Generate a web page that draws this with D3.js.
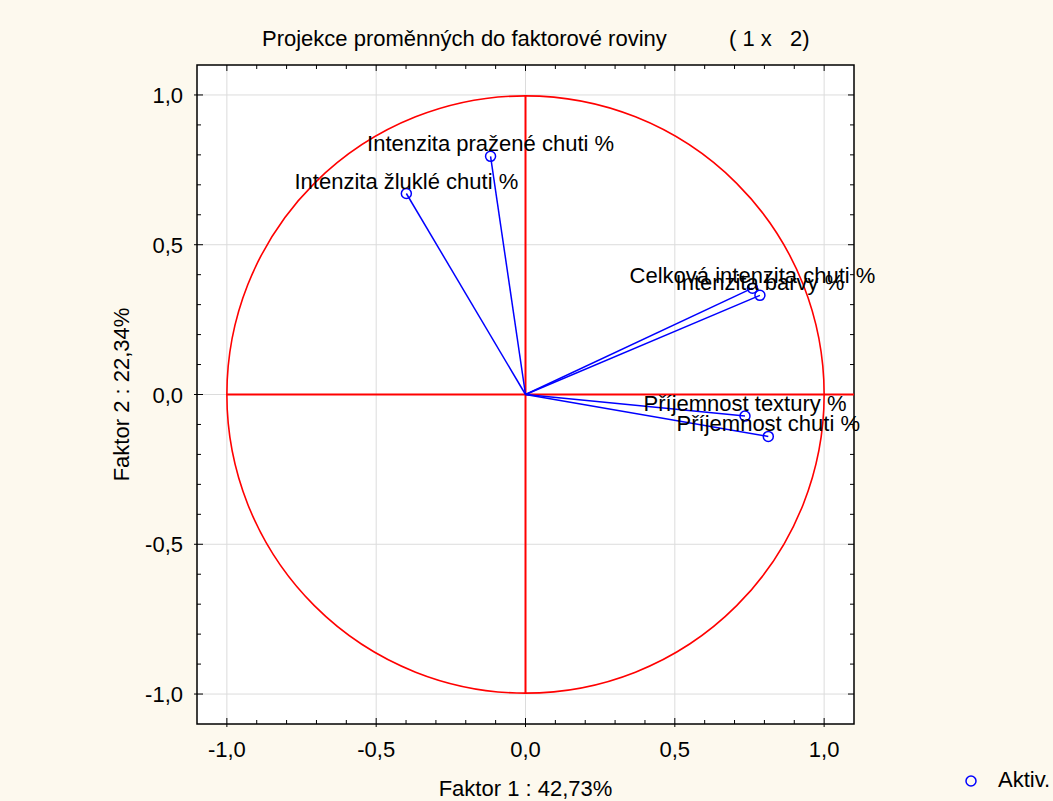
<!DOCTYPE html>
<html><head><meta charset="utf-8">
<script src="https://cdn.jsdelivr.net/npm/d3@7"></script>
<style>html,body{margin:0;padding:0;background:#fdf9ee;}svg{display:block;}</style>
</head><body>
<script>
const variables = ["Intenzita pražené chuti %","Intenzita žluklé chuti %","Celková intenzita chuti %","Intenzita barvy %","Příjemnost textury %","Příjemnost chuti %"];
const factor1 = [-0.117,-0.399,0.760,0.785,0.735,0.813];
const factor2 = [0.795,0.671,0.355,0.331,-0.072,-0.140];
const tickValues = [-1.0,-0.5,0.0,0.5,1.0];
const tickLabels = ["-1,0","-0,5","0,0","0,5","1,0"];
const titleText = "Projekce proměnných do faktorové roviny";
const titleSuffix = "( 1 x   2)";
const xLabel = "Faktor 1 : 42,73%";
const yLabel = "Faktor 2 : 22,34%";
const legendLabel = "Aktiv.";

const W=1053,H=801;
const L=197,R=854,T=65,B=724;
const font="'Liberation Sans', Arial, sans-serif";
const FS=22;
const svg=d3.select("body").append("svg").attr("width",W).attr("height",H);
svg.append("rect").attr("width",W).attr("height",H).attr("fill","#fdf9ee");
const x=d3.scaleLinear().domain([-1.1,1.1]).range([L,R]);
const y=d3.scaleLinear().domain([-1.1,1.1]).range([B,T]);
svg.append("rect").attr("x",L).attr("y",T).attr("width",R-L).attr("height",B-T).attr("fill","#fff");
// grid
const g=svg.append("g");
tickValues.forEach(v=>{
  g.append("line").attr("x1",x(v)).attr("x2",x(v)).attr("y1",T).attr("y2",B).attr("stroke","#dcdcdc").attr("stroke-width",1);
  g.append("line").attr("y1",y(v)).attr("y2",y(v)).attr("x1",L).attr("x2",R).attr("stroke","#dcdcdc").attr("stroke-width",1);
});
// minor and major ticks
const minor=d3.range(-11,12).map(i=>i/10).filter(v=>Math.abs(v)<=1.05);
minor.forEach(v=>{
  const major=Math.abs(Math.round(v*10)%5)===0;
  const li=major?6:4;
  const lo=major?3:0;
  g.append("line").attr("x1",x(v)).attr("x2",x(v)).attr("y1",B+lo).attr("y2",B-li).attr("stroke","#000");
  g.append("line").attr("x1",x(v)).attr("x2",x(v)).attr("y1",T).attr("y2",T+li).attr("stroke","#000");
  g.append("line").attr("y1",y(v)).attr("y2",y(v)).attr("x1",L-lo).attr("x2",L+li).attr("stroke","#000");
  g.append("line").attr("y1",y(v)).attr("y2",y(v)).attr("x1",R).attr("x2",R-li).attr("stroke","#000");
});
svg.append("rect").attr("x",L).attr("y",T).attr("width",R-L).attr("height",B-T).attr("fill","none").attr("stroke","#000").attr("stroke-width",1.5);
// tick labels
tickValues.forEach((v,i)=>{
  svg.append("text").attr("x",x(v)).attr("y",757).attr("text-anchor","middle").attr("font-family",font).attr("font-size",FS).text(tickLabels[i]);
  svg.append("text").attr("x",183).attr("y",y(v)+8).attr("text-anchor","end").attr("font-family",font).attr("font-size",FS).text(tickLabels[i]);
});
// red circle and axes
svg.append("circle").attr("cx",x(0)).attr("cy",y(0)).attr("r",x(1)-x(0)).attr("fill","none").attr("stroke","#ff0000").attr("stroke-width",1.6);
svg.append("line").attr("x1",x(-1)).attr("x2",x(1.1)).attr("y1",y(0)).attr("y2",y(0)).attr("stroke","#ff0000").attr("stroke-width",2);
svg.append("line").attr("x1",x(0)).attr("x2",x(0)).attr("y1",y(1)).attr("y2",y(-1)).attr("stroke","#ff0000").attr("stroke-width",2);
// vectors
variables.forEach((name,i)=>{
  svg.append("line").attr("x1",x(0)).attr("y1",y(0)).attr("x2",x(factor1[i])).attr("y2",y(factor2[i])).attr("stroke","#0000ff").attr("stroke-width",1.5);
});
variables.forEach((name,i)=>{
  svg.append("circle").attr("cx",x(factor1[i])).attr("cy",y(factor2[i])).attr("r",5).attr("fill","none").attr("stroke","#0000ff").attr("stroke-width",1.5);
  svg.append("text").attr("x",x(factor1[i])).attr("y",y(factor2[i])-5).attr("text-anchor","middle").attr("font-family",font).attr("font-size",FS).attr("fill","#000").text(name);
});
// title
svg.append("text").attr("x",262).attr("y",46).attr("font-family",font).attr("font-size",FS).text(titleText);
svg.append("text").attr("x",729).attr("y",46).attr("font-family",font).attr("font-size",FS).attr("xml:space","preserve").style("white-space","pre").text(titleSuffix);
// axis labels
svg.append("text").attr("x",x(0)).attr("y",796).attr("text-anchor","middle").attr("font-family",font).attr("font-size",FS).text(xLabel);
svg.append("text").attr("transform",`translate(129,${y(0)}) rotate(-90)`).attr("text-anchor","middle").attr("font-family",font).attr("font-size",FS).text(yLabel);
// legend
svg.append("circle").attr("cx",971).attr("cy",781).attr("r",5).attr("fill","none").attr("stroke","#0000ff").attr("stroke-width",1.5);
svg.append("text").attr("x",998).attr("y",787).attr("font-family",font).attr("font-size",FS).text(legendLabel);
</script>
</body></html>
